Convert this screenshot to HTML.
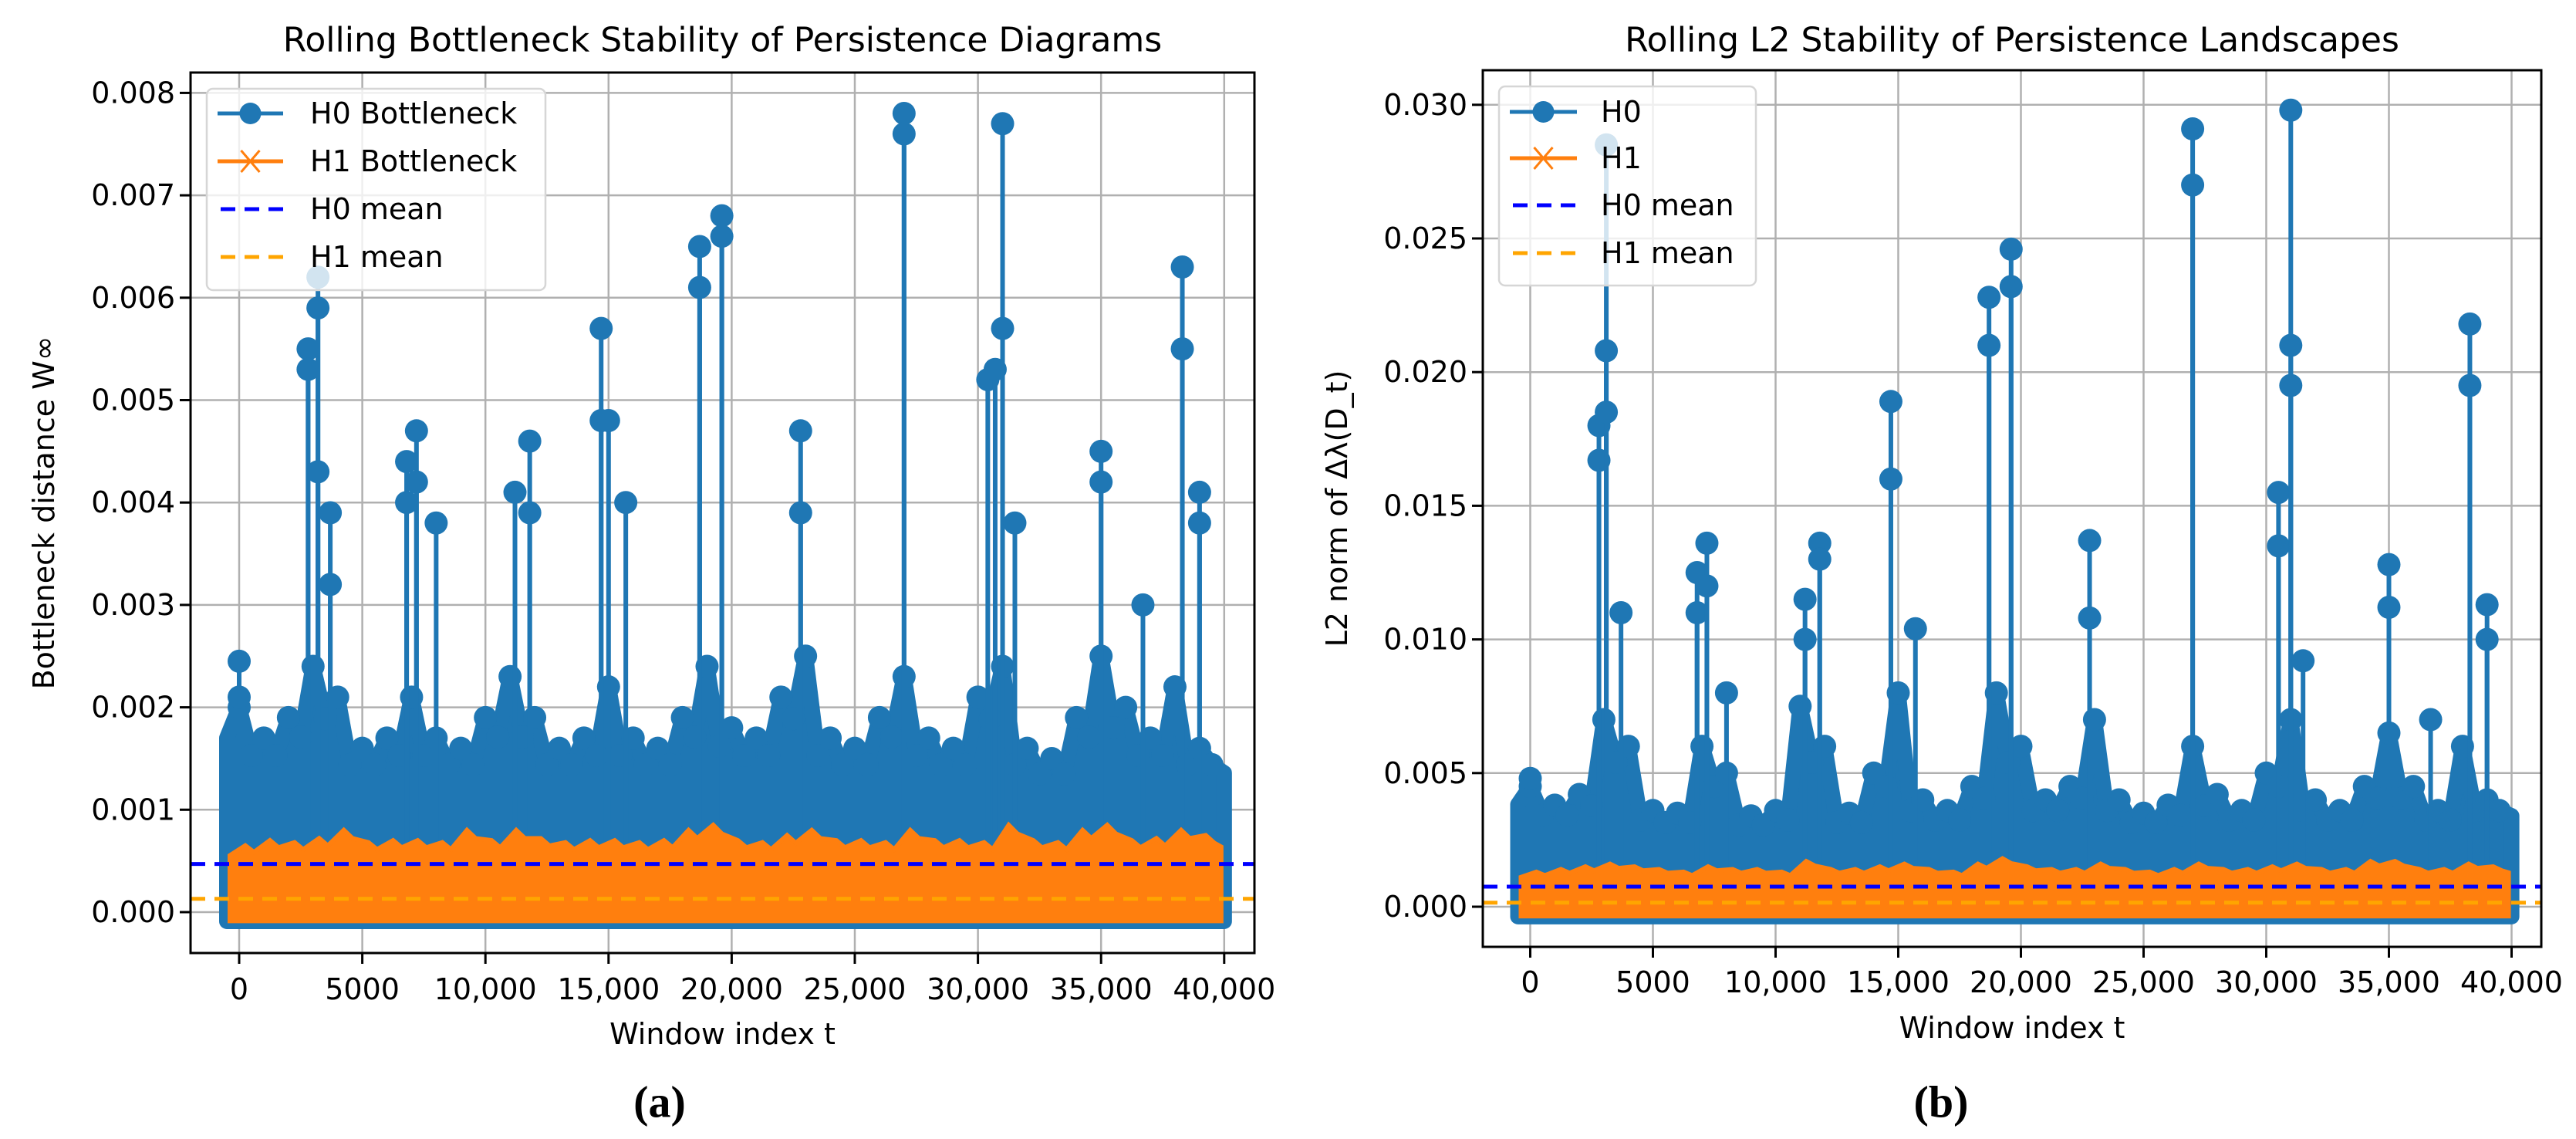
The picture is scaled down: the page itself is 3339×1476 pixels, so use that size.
<!DOCTYPE html>
<html><head><meta charset="utf-8">
<style>
html,body{margin:0;padding:0;background:#fff;}
svg{display:block;}
text{font-family:"DejaVu Sans","Liberation Sans",sans-serif;fill:#000;}
</style></head>
<body>
<svg id="fig" width="3339" height="1476" viewBox="0 0 3339 1476" xmlns="http://www.w3.org/2000/svg"></svg>
<script>
// ---------- data: panel (a) ----------
const aH0Env = [0.0020,0.0017,0.0019,0.0024,0.0021,0.0016,0.0017,0.0021,0.0017,0.0016,0.0019,0.0023,0.0019,0.0016,0.0017,0.0022,0.0017,0.0016,0.0019,0.0024,0.0018,0.0017,0.0021,0.0025,0.0017,0.0016,0.0019,0.0023,0.0017,0.0016,0.0021,0.0024,0.0016,0.0015,0.0019,0.0025,0.0020,0.0017,0.0022,0.0016];
const aH1Env = [0.00065,0.0007,0.00068,0.00072,0.0008,0.00068,0.0007,0.0007,0.00068,0.0008,0.0007,0.0008,0.00072,0.00068,0.0007,0.0007,0.00068,0.0007,0.0008,0.00085,0.0007,0.00068,0.00075,0.0008,0.0007,0.0007,0.00068,0.0008,0.0007,0.0007,0.00068,0.00085,0.0007,0.00068,0.0008,0.00085,0.0007,0.00072,0.0008,0.00075];
const aSpikeT = [0,0,2800,2800,3200,3200,3200,3700,3700,6800,6800,7200,7200,8000,11200,11800,11800,14700,14700,15000,15700,18700,18700,19600,19600,22800,22800,27000,27000,30400,30700,31000,31000,31500,35000,35000,36700,38300,38300,39000,39000];
const aSpikeV = [0.00245,0.0021,0.0055,0.0053,0.0062,0.0059,0.0043,0.0039,0.0032,0.0044,0.0040,0.0047,0.0042,0.0038,0.0041,0.0046,0.0039,0.0057,0.0048,0.0048,0.0040,0.0065,0.0061,0.0068,0.0066,0.0047,0.0039,0.0078,0.0076,0.0052,0.0053,0.0077,0.0057,0.0038,0.0045,0.0042,0.0030,0.0063,0.0055,0.0041,0.0038];
const aMeans = [0.00047, 0.00013];
const aYTicks = [0,0.001,0.002,0.003,0.004,0.005,0.006,0.007,0.008];
const aYTickLabels = ["0.000","0.001","0.002","0.003","0.004","0.005","0.006","0.007","0.008"];
// ---------- data: panel (b) ----------
const bH0Env = [0.0045,0.0038,0.0042,0.0070,0.0060,0.0036,0.0035,0.0060,0.0050,0.0034,0.0036,0.0075,0.0060,0.0035,0.0050,0.0080,0.0040,0.0036,0.0045,0.0080,0.0060,0.0040,0.0045,0.0070,0.0040,0.0035,0.0038,0.0060,0.0042,0.0036,0.0050,0.0070,0.0040,0.0036,0.0045,0.0065,0.0045,0.0036,0.0060,0.0040];
const bH1Env = [0.0013,0.0014,0.0015,0.0016,0.0015,0.0014,0.0013,0.0015,0.0014,0.0014,0.0013,0.0017,0.0014,0.0014,0.0015,0.0016,0.0014,0.0013,0.0016,0.0018,0.0015,0.0014,0.0014,0.0016,0.0014,0.0013,0.0014,0.0016,0.0014,0.0014,0.0015,0.0016,0.0014,0.0014,0.0017,0.0017,0.0014,0.0014,0.0016,0.0015];
const bSpikeT = [0,2800,2800,3100,3100,3100,3700,6800,6800,7200,7200,8000,11200,11200,11800,11800,14700,14700,15700,18700,18700,19600,19600,22800,22800,27000,27000,30500,30500,31000,31000,31000,31500,35000,35000,36700,38300,38300,39000,39000];
const bSpikeV = [0.0048,0.0180,0.0167,0.0285,0.0208,0.0185,0.0110,0.0125,0.0110,0.0136,0.0120,0.0080,0.0115,0.0100,0.0136,0.0130,0.0189,0.0160,0.0104,0.0228,0.0210,0.0246,0.0232,0.0137,0.0108,0.0291,0.0270,0.0155,0.0135,0.0298,0.0210,0.0195,0.0092,0.0128,0.0112,0.0070,0.0218,0.0195,0.0113,0.0100];
const bMeans = [0.00075, 0.00015];
const bYTicks = [0,0.005,0.010,0.015,0.020,0.025,0.030];
const bYTickLabels = ["0.000","0.005","0.010","0.015","0.020","0.025","0.030"];
// shared x ticks
const xTicks = [0,5000,10000,15000,20000,25000,30000,35000,40000];
const xTickLabels = ["0","5000","10,000","15,000","20,000","25,000","30,000","35,000","40,000"];
const binWidth = 1000;

const NS="http://www.w3.org/2000/svg";
const svg=document.getElementById('fig');
function mk(tag,attrs,parent){const e=document.createElementNS(NS,tag);for(const k in attrs)e.setAttribute(k,attrs[k]);(parent||svg).appendChild(e);return e;}

function panel(P){
  const g=mk('g',{});
  
  
  const X=t=>P.x0+t*P.xs, Y=v=>P.y0-v*P.ys;
  xTicks.forEach(t=>{const l=mk('line',{x1:X(t),x2:X(t),y1:P.top,y2:P.bot,stroke:'#b0b0b0','stroke-width':2.5},g);
    });
  P.yt.forEach(v=>{const l=mk('line',{x1:P.left,x2:P.right,y1:Y(v),y2:Y(v),stroke:'#b0b0b0','stroke-width':2.5},g);
    });
  // H0 envelope area
  const n=P.h0.length, lo=P.lowV;
  const dip=i=>Math.min(P.h0[i], i+1<n?P.h0[i+1]:P.h0[i])*0.9;
  let d=`M${X(0)-16},${Y(lo)} L${X(0)-16},${Y(P.h0[0]*0.85)}`;
  for(let i=0;i<n;i++){const t=i*binWidth; d+=` L${X(t)},${Y(P.h0[i])} L${X(t+binWidth/2)},${Y(dip(i))}`;}
  d+=` L${X(39500)+16},${Y(P.h0[n-1]*0.85)} L${X(39500)+16},${Y(lo)} Z`;
  const a0=mk('path',{d:d,fill:'#1f77b4',stroke:'#1f77b4','stroke-width':20,'stroke-linejoin':'round'},g);
  
  for(let i=0;i<n;i++){
    const c=mk('circle',{cx:X(i*binWidth),cy:Y(P.h0[i]),r:15,fill:'#1f77b4'},g);
    
    const c2=mk('circle',{cx:X(i*binWidth+binWidth/2),cy:Y(dip(i)),r:15,fill:'#1f77b4'},g);
    
  }
  P.st.forEach((t,i)=>{
    const l=mk('line',{x1:X(t),x2:X(t),y1:Y(0.0005),y2:Y(P.sv[i]),stroke:'#1f77b4','stroke-width':6},g);
    
    const c=mk('circle',{cx:X(t),cy:Y(P.sv[i]),r:15,fill:'#1f77b4'},g);
    
  });
  // H1 envelope
  let d1=`M${X(0)-12},${Y(lo*0.95)} L${X(0)-12},${Y(P.h1[0]*0.85)}`;
  for(let i=0;i<n;i++){const t=i*binWidth; d1+=` L${X(t+binWidth*0.25)},${Y(P.h1[i])} L${X(t+binWidth*0.6)},${Y(P.h1[i]*0.9)}`;}
  d1+=` L${X(39500)+12},${Y(P.h1[n-1]*0.85)} L${X(39500)+12},${Y(lo*0.95)} Z`;
  const a1=mk('path',{d:d1,fill:'#ff7f0e',stroke:'#ff7f0e','stroke-width':6},g);
  
  const m0=mk('line',{x1:P.left,x2:P.right,y1:Y(P.means[0]),y2:Y(P.means[0]),stroke:'#0000ff','stroke-width':5,'stroke-dasharray':'19 12'},g);
  
  const m1=mk('line',{x1:P.left,x2:P.right,y1:Y(P.means[1]),y2:Y(P.means[1]),stroke:'#ffa500','stroke-width':5,'stroke-dasharray':'19 12'},g);
  
  const fr=mk('rect',{x:P.left,y:P.top,width:P.right-P.left,height:P.bot-P.top,fill:'none',stroke:'#000','stroke-width':3},g);
  
  xTicks.forEach((t,i)=>{
    mk('line',{x1:X(t),x2:X(t),y1:P.bot,y2:P.bot+14,stroke:'#000','stroke-width':3},g);
    const tx=mk('text',{x:X(t),y:P.xlY,'font-size':38,'text-anchor':'middle','dominant-baseline':'central'},g);
    tx.textContent=xTickLabels[i];
    
  });
  P.yt.forEach((v,i)=>{
    mk('line',{x1:P.left-14,x2:P.left,y1:Y(v),y2:Y(v),stroke:'#000','stroke-width':3},g);
    const tx=mk('text',{x:P.left-20,y:Y(v),'font-size':38,'text-anchor':'end','dominant-baseline':'central'},g);
    tx.textContent=P.ytl[i];
    
  });
  const cx=(P.left+P.right)/2;
  const ti=mk('text',{x:cx,y:52,'font-size':44,'text-anchor':'middle','dominant-baseline':'central'},g);
  ti.textContent=P.title;
  const xl=mk('text',{x:cx,y:P.xlabY,'font-size':38,'text-anchor':'middle','dominant-baseline':'central'},g);
  xl.textContent='Window index t';
  const yl=mk('text',{x:P.ylabX,y:(P.top+P.bot)/2,'font-size':38,'text-anchor':'middle','dominant-baseline':'central',transform:`rotate(-90 ${P.ylabX} ${(P.top+P.bot)/2})`},g);
  yl.textContent=P.ylab;
  const sub=mk('text',{x:P.subX,y:1428,'font-size':58,'font-weight':'bold','text-anchor':'middle','dominant-baseline':'central',style:'font-family:"Liberation Serif",serif'},g);
  sub.textContent=P.sub;
  const L=P.leg;
  const lg=mk('g',{},g);
  
  mk('rect',{x:L.x,y:L.y,width:L.w,height:L.h,rx:8,fill:'#fff','fill-opacity':0.8,stroke:'#d6d6d6','stroke-width':2.5},lg);
  const lx1=L.x+14, lx2=L.lineEnd, mx=(lx1+lx2)/2;
  L.labels.forEach((lab,i)=>{
    const y=L.ys[i];
    const e=mk('g',{},lg);
    
    if(i===0){mk('line',{x1:lx1,x2:lx2,y1:y,y2:y,stroke:'#1f77b4','stroke-width':5},e);mk('circle',{cx:mx,cy:y,r:14,fill:'#1f77b4'},e);}
    if(i===1){mk('line',{x1:lx1,x2:lx2,y1:y,y2:y,stroke:'#ff7f0e','stroke-width':5},e);
      mk('path',{d:`M${mx-12},${y-14} L${mx+12},${y+14} M${mx-12},${y+14} L${mx+12},${y-14}`,stroke:'#ff7f0e','stroke-width':3},e);}
    if(i===2){mk('line',{x1:lx1+4,x2:lx2,y1:y,y2:y,stroke:'#0000ff','stroke-width':5,'stroke-dasharray':'19 12'},e);}
    if(i===3){mk('line',{x1:lx1+4,x2:lx2,y1:y,y2:y,stroke:'#ffa500','stroke-width':5,'stroke-dasharray':'19 12'},e);}
    const tx=mk('text',{x:L.textX,y:y,'font-size':38,'dominant-baseline':'central'},e);
    tx.textContent=lab;
  });
}

panel({id:'bottleneck',left:247,right:1626,top:94,bot:1235,x0:310,xs:0.03192,y0:1182,ys:132700,lowV:-0.00009,
  h0:aH0Env,h1:aH1Env,st:aSpikeT,sv:aSpikeV,means:aMeans,yt:aYTicks,ytl:aYTickLabels,
  xlY:1282,xlabY:1340,ylabX:57,subX:855,sub:'(a)',
  title:'Rolling Bottleneck Stability of Persistence Diagrams',ylab:'Bottleneck distance W\u221E',
  leg:{x:268,y:115,w:439,h:261,lineEnd:367,textX:402,ys:[147,209,271,333],labels:['H0 Bottleneck','H1 Bottleneck','H0 mean','H1 mean']}});

panel({id:'landscape',left:1922,right:3294,top:91,bot:1227,x0:1983.5,xs:0.0318,y0:1175,ys:34640,lowV:-0.00037,
  h0:bH0Env,h1:bH1Env,st:bSpikeT,sv:bSpikeV,means:bMeans,yt:bYTicks,ytl:bYTickLabels,
  xlY:1273,xlabY:1332,ylabX:1733,subX:2516,sub:'(b)',
  title:'Rolling L2 Stability of Persistence Landscapes',ylab:'L2 norm of \u0394\u03BB(D_t)',
  leg:{x:1943,y:112,w:333,h:258,lineEnd:2044,textX:2075,ys:[145,205,266,328],labels:['H0','H1','H0 mean','H1 mean']}});
</script>
</body></html>
